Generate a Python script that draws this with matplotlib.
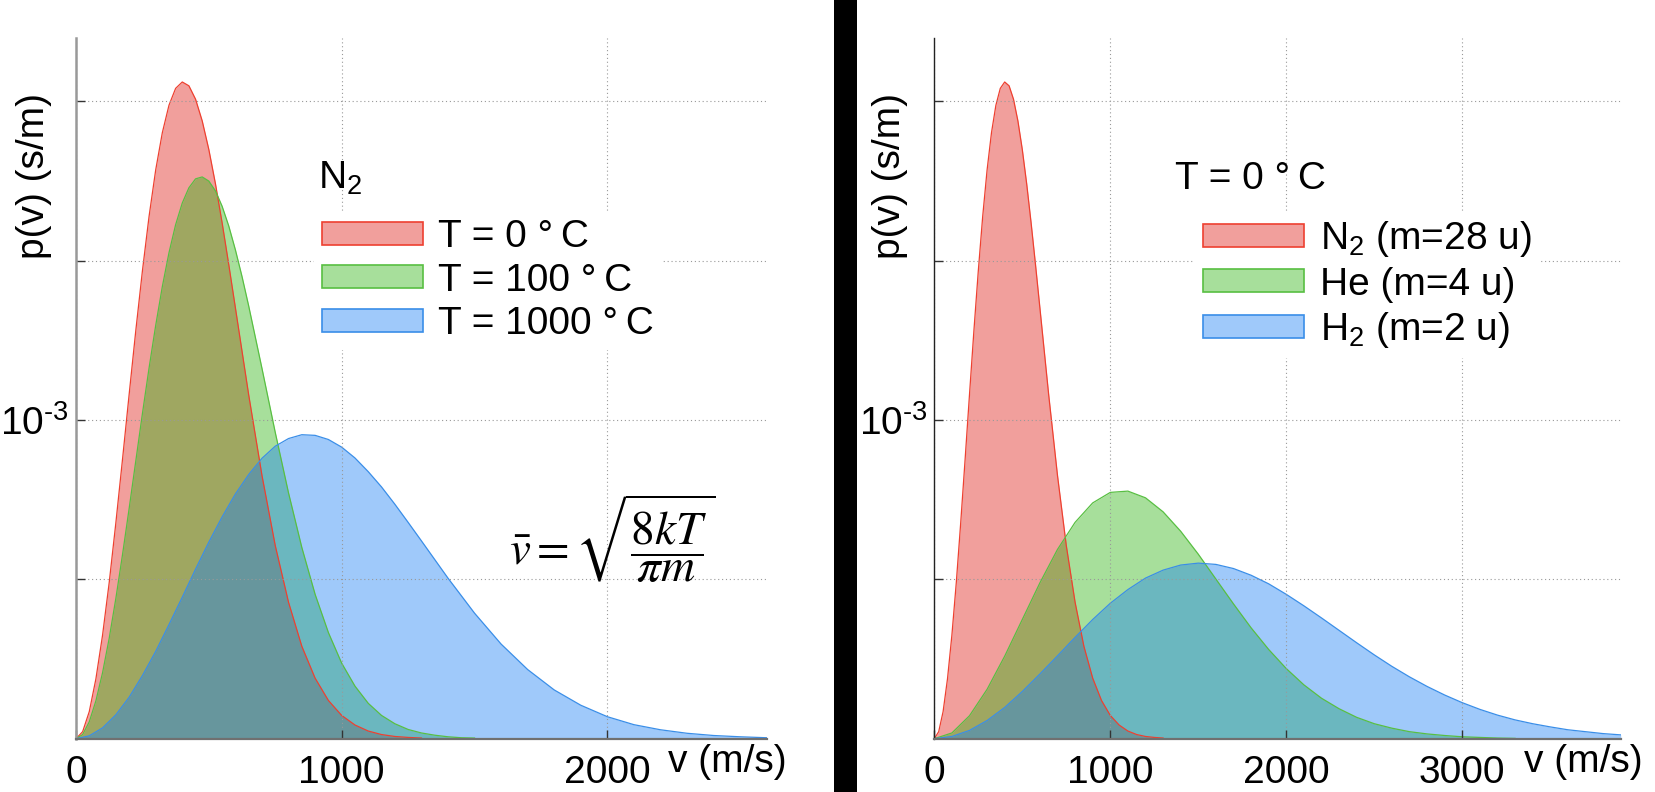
# Maxwell speed distributions: N2 at three temperatures, and N2/He/H2 at 0 C

import numpy as np
import matplotlib.pyplot as plt
from matplotlib.patches import Patch, Rectangle
from matplotlib.colors import to_rgba

plt.rcParams['font.family'] = ['Liberation Sans', 'DejaVu Sans']
plt.rcParams['font.size'] = 28


#%% data, p(v) read in units of 1e-3 s/m

# N2, T = 0 C  (also used in the right panel)
v_n2_0 = np.concatenate([np.arange(0, 601, 25), np.arange(650, 1301, 50)])
p_n2_0 = np.array([0, 0.022, 0.085, 0.188, 0.325, 0.490, 0.677, 0.876, 1.080, 1.280,
                   1.468, 1.639, 1.785, 1.902, 1.988, 2.041, 2.061, 2.049, 2.007, 1.939,
                   1.849, 1.741, 1.619, 1.488, 1.352,
                   1.079, 0.826, 0.606, 0.428, 0.290, 0.190, 0.120, 0.073, 0.043, 0.024,
                   0.013, 0.007, 0.004, 0.002])

# N2, T = 100 C
v_n2_100 = np.concatenate([np.arange(0, 651, 25), np.arange(700, 1501, 50)])
p_n2_100 = np.array([0, 0.013, 0.053, 0.119, 0.207, 0.315, 0.440, 0.577, 0.722, 0.871,
                     1.020, 1.163, 1.297, 1.419, 1.525, 1.613, 1.681, 1.729, 1.757, 1.763,
                     1.750, 1.719, 1.671, 1.609, 1.534, 1.450, 1.358,
                     1.162, 0.961, 0.771, 0.600, 0.453, 0.333, 0.237, 0.165, 0.111, 0.073,
                     0.047, 0.029, 0.018, 0.011, 0.006, 0.003, 0.002])

# N2, T = 1000 C
v_n2_1000 = np.concatenate([np.arange(0, 1301, 50), np.arange(1400, 2601, 100)])
p_n2_1000 = np.array([0, 0.009, 0.034, 0.075, 0.130, 0.198, 0.274, 0.358, 0.444, 0.532,
                      0.617, 0.696, 0.768, 0.829, 0.880, 0.918, 0.942, 0.954, 0.952, 0.939,
                      0.915, 0.881, 0.838, 0.790, 0.736, 0.679, 0.621,
                      0.504, 0.394, 0.297, 0.217, 0.153, 0.105, 0.069, 0.044, 0.028, 0.017,
                      0.010, 0.006, 0.003])

# He, T = 0 C
v_he = np.arange(0, 3301, 100)
p_he = np.array([0, 0.018, 0.072, 0.155, 0.259, 0.374, 0.489, 0.594, 0.679, 0.740,
                 0.773, 0.777, 0.756, 0.712, 0.651, 0.579, 0.501, 0.423, 0.348, 0.280,
                 0.220, 0.169, 0.127, 0.094, 0.067, 0.047, 0.033, 0.022, 0.015, 0.010,
                 0.006, 0.004, 0.002, 0.001])

# H2, T = 0 C
v_h2 = np.arange(0, 3901, 100)
p_h2 = np.array([0, 0.007, 0.026, 0.057, 0.098, 0.148, 0.203, 0.260, 0.318, 0.374,
                 0.425, 0.468, 0.504, 0.529, 0.545, 0.551, 0.547, 0.534, 0.513, 0.486,
                 0.453, 0.417, 0.379, 0.340, 0.301, 0.263, 0.227, 0.194, 0.164, 0.137,
                 0.113, 0.092, 0.074, 0.059, 0.047, 0.037, 0.028, 0.022, 0.016, 0.012])

labels_left = ['T = 0 °\u2009C', 'T = 100 °\u2009C', 'T = 1000 °\u2009C']
labels_right = [r'N$\mathregular{_2}$ (m=28 u)', 'He (m=4 u)', r'H$\mathregular{_2}$ (m=2 u)']
yticks = [0.5, 1.0, 1.5, 2.0]
# hyphen (U+2010) in the exponent, mathtext would turn '-' into a wide minus
yticklabels = ['', '$\\mathregular{10^{\u20103}}$', '', '']


#%% style

fills = ['#df1710', '#2bb30d', '#177ef3']
edges = ['#ee4030', '#58bf42', '#3a8ee8']
alpha = 0.41


def draw_panel(ax, curves, labels, title, xmax, xticks, lspine):
    for (v, p), c, e in zip(curves, fills, edges):
        ax.fill_between(v, p, color=to_rgba(c, alpha), lw=0, zorder=1)
        ax.plot(v, p, color=e, lw=0.9, zorder=1.5)

    ax.set_xlim(0, xmax)
    ax.set_ylim(0, 2.2)
    ax.set_xticks(xticks)
    ax.set_xticklabels([str(x) for x in xticks])
    ax.set_yticks(yticks)
    ax.set_yticklabels(yticklabels)

    ax.set_axisbelow(False)
    ax.grid(True, color='#999999', ls=(0, (1, 2.5)), lw=0.8)
    ax.tick_params(axis='both', direction='in', length=6.5, width=1.0, color='#333333')
    ax.tick_params(axis='x', pad=12)
    ax.tick_params(axis='y', pad=5)

    for s in ['top', 'right']:
        ax.spines[s].set_visible(False)
    ax.spines['left'].set_color(lspine[0])
    ax.spines['left'].set_linewidth(lspine[1])
    ax.spines['bottom'].set_color('#707070')
    ax.spines['bottom'].set_linewidth(1.6)
    for s in ['left', 'bottom']:
        ax.spines[s].set_zorder(3)

    handles = [Patch(facecolor=to_rgba(c, alpha), edgecolor=e, lw=1.2, label=l)
               for c, e, l in zip(fills, edges, labels)]
    ax.legend(handles=handles, loc='upper left', bbox_to_anchor=(title[2], 0.7522),
              borderaxespad=0, borderpad=0.2, handlelength=2.6, handleheight=0.54,
              handletextpad=0.40, labelspacing=0.19, frameon=True, fancybox=False,
              facecolor='white', edgecolor='none', framealpha=1)
    ax.text(title[1], 0.7842, title[0], transform=ax.transAxes, ha='left', va='baseline')

    ax.set_xlabel('v (m/s)', ha='left', va='baseline')
    ax.set_ylabel('p(v) (s/m)', ha='center', va='center')


fig = plt.figure(figsize=(16.56, 7.92), dpi=100)
ax1 = fig.add_axes([0.04589, 0.0673, 0.41715, 0.8851])
ax2 = fig.add_axes([0.56419, 0.0673, 0.41449, 0.8851])

draw_panel(ax1, [(v_n2_0, p_n2_0), (v_n2_100, p_n2_100), (v_n2_1000, p_n2_1000)],
           labels_left, (r'N$\mathregular{_2}$', 0.3503, 0.3443), 2600, [0, 1000, 2000],
           ('#999999', 1.8))
draw_panel(ax2, [(v_n2_0, p_n2_0), (v_he, p_he), (v_h2, p_h2)],
           labels_right, ('T = 0 °\u2009C', 0.3507, 0.3801), 3900, [0, 1000, 2000, 3000],
           ('#222222', 1.0))

ax1.xaxis.set_label_coords(0.857, -0.0471)
ax2.xaxis.set_label_coords(0.859, -0.0471)
ax1.yaxis.set_label_coords(-0.0605, 0.8034)
ax2.yaxis.set_label_coords(-0.0645, 0.8034)

ax1.text(0.7767, 0.2849, r'$\bar{v} = \sqrt{\dfrac{8kT}{\pi m}}$', transform=ax1.transAxes,
         ha='center', va='center', fontsize=34, math_fontfamily='stix')

# black separator between the two panels
fig.add_artist(Rectangle((834 / 1656, 0), 23.3 / 1656, 1, transform=fig.transFigure,
                         color='black', lw=0))

fig.savefig('out.png', dpi=100)
